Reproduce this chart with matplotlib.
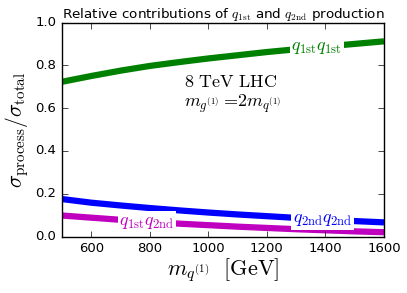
import matplotlib
matplotlib.use("Agg")
import matplotlib.pyplot as plt
import numpy as np

plt.style.use("classic")
plt.rcParams["mathtext.fontset"] = "cm"
plt.rcParams["font.family"] = "DejaVu Sans"

mass = [500, 600, 700, 800, 900, 1000, 1100, 1200, 1300, 1400, 1500, 1600]
frac_11 = [0.723, 0.750, 0.775, 0.797, 0.815, 0.832, 0.847, 0.862, 0.875, 0.888, 0.900, 0.912]
frac_22 = [0.175, 0.158, 0.145, 0.133, 0.122, 0.112, 0.103, 0.095, 0.087, 0.079, 0.072, 0.066]
frac_12 = [0.098, 0.088, 0.078, 0.068, 0.060, 0.053, 0.046, 0.040, 0.034, 0.029, 0.024, 0.020]

series = [
    (frac_11, "green", r"$q_{\rm 1st}q_{\rm 1st}$", 1370),
    (frac_22, "blue", r"$q_{\rm 2nd}q_{\rm 2nd}$", 1390),
    (frac_12, "m", r"$q_{\rm 1st}q_{\rm 2nd}$", 790),
]

fig = plt.figure(figsize=(4.07, 2.93), dpi=100, facecolor="white")
ax = fig.add_axes([62 / 407, 1 - 236.5 / 293, 322 / 407, 214 / 293])

for y, c, lab, xl in series:
    ax.plot(mass, y, color=c, lw=4.5, solid_capstyle="butt")
    yl = np.interp(xl, mass, y)
    ax.text(xl, yl, lab, color=c, fontsize=13, ha="center", va="center",
            bbox=dict(facecolor="white", edgecolor="none", pad=1))

ax.text(0.38, 0.72, r"$\mathrm{8\ TeV\ LHC}$", transform=ax.transAxes,
        fontsize=13, ha="left", va="center")
ax.text(0.38, 0.62, r"$m_{g^{(1)}}=\!2m_{q^{(1)}}$", transform=ax.transAxes,
        fontsize=13, ha="left", va="center")

ax.set_xlim(500, 1600)
ax.set_ylim(0, 1)
ax.set_xticks([600, 800, 1000, 1200, 1400, 1600])
ax.set_yticks([0.0, 0.2, 0.4, 0.6, 0.8, 1.0])
ax.tick_params(labelsize=9.5)
ax.set_xlabel(r"$m_{q^{(1)}}\ \ [\mathrm{GeV}]$", fontsize=16, labelpad=1)
ax.set_ylabel(r"$\sigma_{\rm process}/\sigma_{\rm total}$", fontsize=15.5, labelpad=3)
ax.set_title(r"Relative contributions of $q_{\rm 1st}$ and $q_{\rm 2nd}$ production",
             fontsize=9.7, y=0.99)

fig.savefig("out.png", dpi=100, facecolor="white")
